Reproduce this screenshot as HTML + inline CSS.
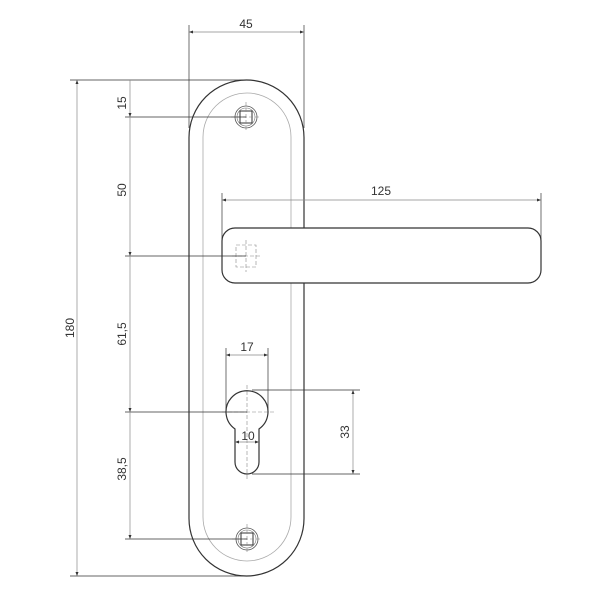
<!DOCTYPE html>
<html><head><style>body{margin:0;background:#fff}svg{display:block}text{font-family:"Liberation Sans",sans-serif;font-size:12px;fill:#333}</style></head>
<body>
<svg width="600" height="600" viewBox="0 0 600 600">
<defs>
<marker id="a" viewBox="0 0 8 6" refX="8" refY="3" markerWidth="6" markerHeight="5" orient="auto-start-reverse"><path d="M0,0L8,3L0,6z" fill="#333"/></marker>
</defs>
<g fill="none">
<!-- plate -->
<rect x="189" y="80" width="115" height="496" rx="57.5" stroke="#333" stroke-width="1.2"/>
<rect x="203" y="93" width="88" height="468" rx="44" stroke="#aaa" stroke-width="0.8"/>
<!-- handle -->
<rect x="222" y="228" width="319" height="55" rx="13" fill="#fff" stroke="#333" stroke-width="1.2"/>
<!-- screws -->
<circle cx="246" cy="117" r="11" stroke="#555" stroke-width="0.8"/>
<circle cx="246" cy="117" r="9" stroke="#777" stroke-width="0.6"/>
<rect x="240" y="111" width="12" height="12" stroke="#333" stroke-width="1"/>
<circle cx="247" cy="539" r="11" stroke="#555" stroke-width="0.8"/>
<circle cx="247" cy="539" r="9" stroke="#777" stroke-width="0.6"/>
<rect x="241" y="533" width="12" height="12" stroke="#333" stroke-width="1"/>
<g stroke="#888" stroke-width="0.6" stroke-dasharray="4,2">
<line x1="246" y1="102" x2="246" y2="132"/><line x1="231" y1="117" x2="261" y2="117"/>
<line x1="247" y1="524" x2="247" y2="554"/><line x1="232" y1="539" x2="262" y2="539"/>
<rect x="236" y="245" width="20" height="22"/>
<line x1="246" y1="240" x2="246" y2="272"/><line x1="232" y1="256" x2="261" y2="256"/>
<line x1="247" y1="385" x2="247" y2="480"/><line x1="222" y1="412" x2="275" y2="412"/>
</g>
<!-- keyhole -->
<path d="M235,429 A21,21 0 1 1 259,429 L259,462 A12,12 0 0 1 235,462 Z" stroke="#333" stroke-width="1.2"/>
<!-- dimension lines -->
<g stroke="#333" stroke-width="0.7">
<line x1="189" y1="25" x2="189" y2="128"/><line x1="304" y1="25" x2="304" y2="128"/>
<line x1="189" y1="32" x2="304" y2="32" marker-start="url(#a)" marker-end="url(#a)" stroke="#888"/>
<line x1="70" y1="80" x2="246" y2="80"/><line x1="70" y1="576" x2="247" y2="576"/>
<line x1="77" y1="80" x2="77" y2="576" marker-start="url(#a)" marker-end="url(#a)" stroke="#888"/>
<line x1="125" y1="117" x2="246" y2="117"/><line x1="125" y1="256" x2="246" y2="256"/>
<line x1="125" y1="412" x2="247" y2="412"/><line x1="125" y1="539" x2="247" y2="539"/>
<g stroke="#888">
<line x1="130" y1="80" x2="130" y2="117" marker-end="url(#a)"/>
<line x1="130" y1="117" x2="130" y2="256" marker-end="url(#a)"/>
<line x1="130" y1="256" x2="130" y2="412" marker-end="url(#a)"/>
<line x1="130" y1="412" x2="130" y2="539" marker-end="url(#a)"/>
</g>
<line x1="222" y1="193" x2="222" y2="245"/><line x1="541" y1="193" x2="541" y2="245"/>
<line x1="222" y1="200" x2="541" y2="200" marker-start="url(#a)" marker-end="url(#a)" stroke="#888"/>
<line x1="226" y1="348" x2="226" y2="410"/><line x1="268" y1="348" x2="268" y2="410"/>
<line x1="226" y1="355" x2="268" y2="355" marker-start="url(#a)" marker-end="url(#a)" stroke="#888"/>
<line x1="252" y1="390" x2="360" y2="390"/><line x1="252" y1="474" x2="360" y2="474"/>
<line x1="353" y1="390" x2="353" y2="474" marker-start="url(#a)" marker-end="url(#a)" stroke="#888"/>
<line x1="235" y1="442" x2="259" y2="442" marker-start="url(#a)" marker-end="url(#a)" stroke="#888"/>
</g>
</g>
<text x="246" y="28" text-anchor="middle">45</text>
<text x="381" y="195" text-anchor="middle">125</text>
<text x="247" y="351" text-anchor="middle">17</text>
<text x="248" y="440" text-anchor="middle">10</text>
<text transform="translate(126,103) rotate(-90)" text-anchor="middle">15</text>
<text transform="translate(126,190) rotate(-90)" text-anchor="middle">50</text>
<text transform="translate(126,334) rotate(-90)" text-anchor="middle">61,5</text>
<text transform="translate(126,469) rotate(-90)" text-anchor="middle">38,5</text>
<text transform="translate(74,328) rotate(-90)" text-anchor="middle">180</text>
<text transform="translate(349,432) rotate(-90)" text-anchor="middle">33</text>
</svg>
</body></html>
